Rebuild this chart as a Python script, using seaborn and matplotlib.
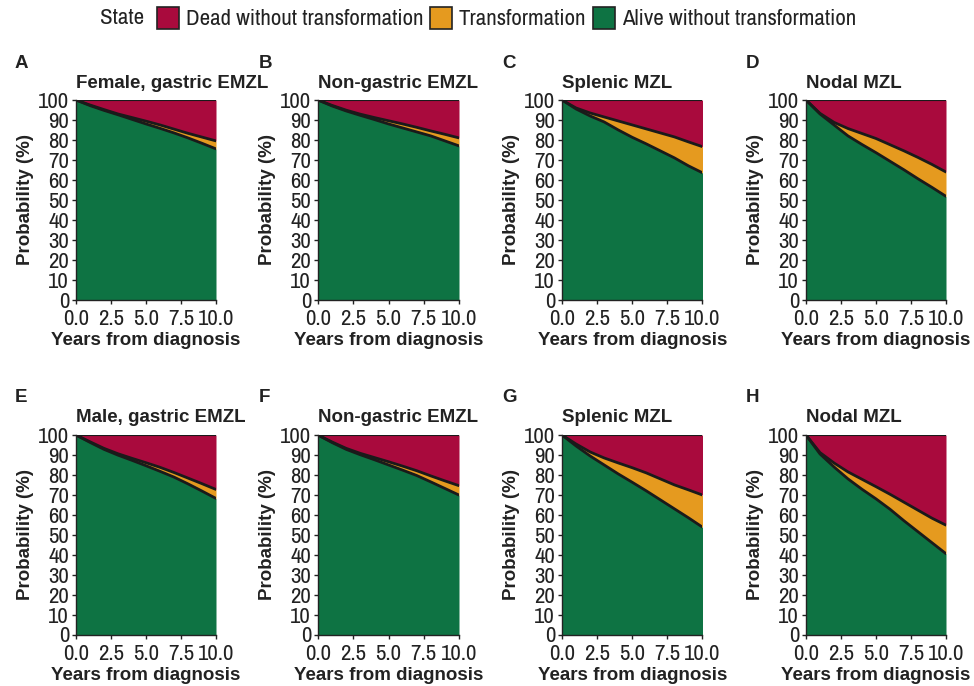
import matplotlib
matplotlib.use("Agg")
import matplotlib.pyplot as plt
from matplotlib.patches import Patch
import pandas as pd
import seaborn as sns

# Years since diagnosis at which state probabilities are given
years = [0, 1, 2, 3, 4, 5, 6, 7, 8, 9, 10]

# Probability (%) of being alive without transformation, and of transformation
alive_female_gastric = [100, 97.2, 94.8, 92.6, 90.3, 88, 85.8, 83.5, 81, 78.3, 75.5]
trans_female_gastric = [0, 0.3, 0.4, 0.4, 0.9, 1.4, 1.7, 1.9, 2.3, 3.1, 4.0]

alive_female_nongastric = [100, 97, 94.5, 92.3, 90.2, 88, 86, 84, 82, 79.5, 77]
trans_female_nongastric = [0, 0.3, 0.4, 0.6, 1.0, 1.6, 2.0, 2.3, 2.5, 3.3, 4.0]

alive_female_splenic = [100, 95.5, 92, 89, 85, 81.3, 78, 74.5, 71, 67, 63.5]
trans_female_splenic = [0, 0.5, 1.5, 2.5, 4.5, 6.2, 7.5, 9.0, 10.5, 12.0, 13.1]

alive_female_nodal = [100, 93, 87.5, 82, 77.7, 73.6, 69.3, 65, 60.5, 56.2, 51.7]
trans_female_nodal = [0, 0.3, 1.3, 3.7, 5.5, 7.1, 8.3, 9.5, 10.7, 11.5, 12.2]

alive_male_gastric = [100, 96.3, 92.8, 89.9, 87.3, 84.6, 81.8, 78.9, 75.5, 71.9, 68.2]
trans_male_gastric = [0, 0.3, 0.5, 0.7, 1.0, 1.5, 2.0, 2.3, 2.9, 3.7, 4.5]

alive_male_nongastric = [100, 96.2, 92.8, 90.1, 87.6, 85, 82.4, 79.7, 76.5, 73.2, 69.9]
trans_male_nongastric = [0, 0.3, 0.5, 0.7, 1.1, 1.6, 2.0, 2.4, 3.0, 3.8, 4.7]

alive_male_splenic = [100, 94.5, 89.5, 85, 80.5, 76.3, 72, 67.5, 63, 58.5, 53.8]
trans_male_splenic = [0, 1.0, 2.0, 3.5, 5.5, 7.3, 9.0, 10.5, 12.0, 14.0, 16.1]

alive_male_nodal = [100, 90.5, 84, 78, 72.8, 68, 62.8, 57, 51.5, 46, 40.5]
trans_male_nodal = [0, 0.7, 2.0, 3.5, 5.0, 6.1, 7.5, 9.3, 10.8, 12.3, 14.3]

panel_letters = ["A", "B", "C", "D", "E", "F", "G", "H"]
panel_titles = ["Female, gastric EMZL", "Non-gastric EMZL", "Splenic MZL", "Nodal MZL",
                "Male, gastric EMZL", "Non-gastric EMZL", "Splenic MZL", "Nodal MZL"]
panel_alive = [alive_female_gastric, alive_female_nongastric, alive_female_splenic, alive_female_nodal,
               alive_male_gastric, alive_male_nongastric, alive_male_splenic, alive_male_nodal]
panel_trans = [trans_female_gastric, trans_female_nongastric, trans_female_splenic, trans_female_nodal,
               trans_male_gastric, trans_male_nongastric, trans_male_splenic, trans_male_nodal]

state_labels = ["Dead without transformation", "Transformation", "Alive without transformation"]
state_colors = {"Dead without transformation": "#A90A3D",
                "Transformation": "#E59A1F",
                "Alive without transformation": "#0E7343"}

sns.set_theme(style="ticks")
plt.rcParams["font.family"] = ["Archivo Narrow", "Liberation Sans", "DejaVu Sans"]
bold_font = ["Liberation Sans", "DejaVu Sans"]
ink = "#222222"
plt.rcParams.update({
    "axes.edgecolor": ink, "xtick.color": ink, "ytick.color": ink,
    "text.color": ink, "axes.labelcolor": ink,
})

fig = plt.figure(figsize=(9.74, 6.86), dpi=100)
W, H = 974, 686
lefts = [76, 318, 562, 806]
widths = [140, 141, 140.5, 140]
tops = [100, 435]
ax_h = 199.5
tick_size = 16.5
bold_size = 13.5

for i in range(8):
    r, c = divmod(i, 4)
    ax = fig.add_axes([lefts[c] / W, 1 - (tops[r] + ax_h) / H, widths[c] / W, ax_h / H])
    df = pd.DataFrame({"years": years, "alive": panel_alive[i], "trans": panel_trans[i]})
    df["alive_or_trans"] = df["alive"] + df["trans"]
    df["top"] = 100.0

    ax.fill_between(df["years"], 0, df["alive"], color=state_colors["Alive without transformation"], lw=0)
    ax.fill_between(df["years"], df["alive"], df["alive_or_trans"], color=state_colors["Transformation"], lw=0)
    ax.fill_between(df["years"], df["alive_or_trans"], df["top"],
                    color=state_colors["Dead without transformation"], lw=0)
    for col in ["alive", "alive_or_trans"]:
        sns.lineplot(data=df, x="years", y=col, ax=ax, color="#1a1a1a", lw=2.0)
    sns.lineplot(data=df, x="years", y="top", ax=ax, color="#1a1a1a", lw=0.8)

    ax.set_xlim(0, 10)
    ax.set_ylim(0, 100)
    ax.set_xticks([0, 2.5, 5, 7.5, 10])
    ax.set_xticklabels(["0.0", "2.5", "5.0", "7.5", "10.0"])
    ax.set_yticks(range(0, 101, 10))
    ax.tick_params(labelsize=tick_size, length=3, width=1)
    ax.tick_params(axis="x", pad=3.5)
    ax.tick_params(axis="y", pad=2)
    ax.set_xlabel("Years from diagnosis", fontsize=bold_size, fontweight="bold",
                  family=bold_font, labelpad=2.5)
    ax.set_ylabel("Probability (%)", fontsize=bold_size, fontweight="bold",
                  family=bold_font, labelpad=2.5)
    ax.set_title(panel_titles[i], fontsize=bold_size, fontweight="bold", family=bold_font,
                 loc="left", pad=9)
    sns.despine(ax=ax)
    for s in ["left", "bottom"]:
        ax.spines[s].set_linewidth(1)

    fig.text((c * 243.5 + 15) / W, 1 - 63 / H - r * 335 / H, panel_letters[i],
             fontsize=bold_size, fontweight="bold", family=bold_font, va="center", ha="left")

handles = [Patch(facecolor=state_colors[s], edgecolor="#222222", lw=1.2) for s in state_labels]
fig.text(100 / W, 1 - 18 / H, "State", fontsize=tick_size, va="center", ha="left")
fig.legend(handles, state_labels, loc="center left", bbox_to_anchor=(157 / W, 1 - 18 / H),
           ncol=3, frameon=False, fontsize=tick_size, handlelength=0.95, handleheight=1.1,
           handletextpad=0.3, columnspacing=0.3, borderaxespad=0, borderpad=0)

fig.savefig("out.png", dpi=100)
